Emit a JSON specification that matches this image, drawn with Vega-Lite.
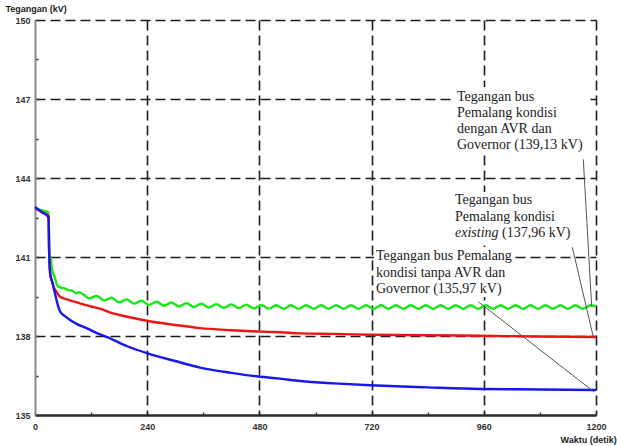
{
  "$schema": "https://vega.github.io/schema/vega-lite/v6.json",
  "width": 561,
  "height": 395,
  "autosize": {"type": "none"},
  "padding": {"left": 35, "top": 20, "right": 21, "bottom": 31},
  "background": "white",
  "config": {"view": {"stroke": null}},
  "datasets": {
    "curves": [
      {"s": "g", "t": 0, "v": 142.85}, {"s": "g", "t": 10, "v": 142.8}, {"s": "g", "t": 20, "v": 142.75}, {"s": "g", "t": 29, "v": 142.7},
      {"s": "g", "t": 30.5, "v": 141.05}, {"s": "g", "t": 34, "v": 141.0}, {"s": "g", "t": 36, "v": 140.55}, {"s": "g", "t": 40, "v": 140.35},
      {"s": "g", "t": 44, "v": 140.12}, {"s": "g", "t": 49, "v": 139.88}, {"s": "g", "t": 56, "v": 139.84}, {"s": "g", "t": 64, "v": 139.8},
      {"s": "g", "t": 72, "v": 139.74}, {"s": "g", "t": 80, "v": 139.72}, {"s": "g", "t": 88, "v": 139.62}, {"s": "g", "t": 94, "v": 139.66},
      {"s": "g", "t": 100, "v": 139.62}, {"s": "g", "t": 116, "v": 139.43}, {"s": "g", "t": 132, "v": 139.52}, {"s": "g", "t": 148, "v": 139.35},
      {"s": "g", "t": 164, "v": 139.45}, {"s": "g", "t": 180, "v": 139.28}, {"s": "g", "t": 196, "v": 139.39}, {"s": "g", "t": 212, "v": 139.23},
      {"s": "g", "t": 228, "v": 139.34}, {"s": "g", "t": 244, "v": 139.18}, {"s": "g", "t": 260, "v": 139.3}, {"s": "g", "t": 276, "v": 139.15},
      {"s": "g", "t": 292, "v": 139.27}, {"s": "g", "t": 308, "v": 139.12}, {"s": "g", "t": 324, "v": 139.25}, {"s": "g", "t": 340, "v": 139.1},
      {"s": "g", "t": 356, "v": 139.23}, {"s": "g", "t": 372, "v": 139.08}, {"s": "g", "t": 388, "v": 139.21}, {"s": "g", "t": 404, "v": 139.07},
      {"s": "g", "t": 420, "v": 139.2}, {"s": "g", "t": 436, "v": 139.06}, {"s": "g", "t": 452, "v": 139.19}, {"s": "g", "t": 468, "v": 139.05},
      {"s": "g", "t": 484, "v": 139.18}, {"s": "g", "t": 500, "v": 139.04}, {"s": "g", "t": 516, "v": 139.17}, {"s": "g", "t": 532, "v": 139.03},
      {"s": "g", "t": 548, "v": 139.17}, {"s": "g", "t": 564, "v": 139.03}, {"s": "g", "t": 580, "v": 139.17}, {"s": "g", "t": 596, "v": 139.03},
      {"s": "g", "t": 612, "v": 139.17}, {"s": "g", "t": 628, "v": 139.03}, {"s": "g", "t": 644, "v": 139.17}, {"s": "g", "t": 660, "v": 139.03},
      {"s": "g", "t": 676, "v": 139.17}, {"s": "g", "t": 692, "v": 139.03}, {"s": "g", "t": 708, "v": 139.17}, {"s": "g", "t": 724, "v": 139.03},
      {"s": "g", "t": 740, "v": 139.17}, {"s": "g", "t": 756, "v": 139.03}, {"s": "g", "t": 772, "v": 139.17}, {"s": "g", "t": 788, "v": 139.03},
      {"s": "g", "t": 804, "v": 139.17}, {"s": "g", "t": 820, "v": 139.03}, {"s": "g", "t": 836, "v": 139.17}, {"s": "g", "t": 852, "v": 139.03},
      {"s": "g", "t": 868, "v": 139.17}, {"s": "g", "t": 884, "v": 139.03}, {"s": "g", "t": 900, "v": 139.17}, {"s": "g", "t": 916, "v": 139.03},
      {"s": "g", "t": 932, "v": 139.17}, {"s": "g", "t": 948, "v": 139.03}, {"s": "g", "t": 964, "v": 139.17}, {"s": "g", "t": 980, "v": 139.03},
      {"s": "g", "t": 996, "v": 139.17}, {"s": "g", "t": 1012, "v": 139.03}, {"s": "g", "t": 1028, "v": 139.17}, {"s": "g", "t": 1044, "v": 139.03},
      {"s": "g", "t": 1060, "v": 139.17}, {"s": "g", "t": 1076, "v": 139.03}, {"s": "g", "t": 1092, "v": 139.17}, {"s": "g", "t": 1108, "v": 139.03},
      {"s": "g", "t": 1124, "v": 139.17}, {"s": "g", "t": 1140, "v": 139.03}, {"s": "g", "t": 1156, "v": 139.17}, {"s": "g", "t": 1172, "v": 139.03},
      {"s": "g", "t": 1188, "v": 139.17}, {"s": "g", "t": 1200, "v": 139.13},

      {"s": "r", "t": 0, "v": 142.85}, {"s": "r", "t": 15, "v": 142.7}, {"s": "r", "t": 29, "v": 142.56}, {"s": "r", "t": 30.5, "v": 141.0},
      {"s": "r", "t": 33, "v": 140.3}, {"s": "r", "t": 36, "v": 140.1}, {"s": "r", "t": 40, "v": 139.85}, {"s": "r", "t": 45, "v": 139.7},
      {"s": "r", "t": 53, "v": 139.5}, {"s": "r", "t": 70, "v": 139.38}, {"s": "r", "t": 96, "v": 139.24}, {"s": "r", "t": 120, "v": 139.12},
      {"s": "r", "t": 139, "v": 139.04}, {"s": "r", "t": 160, "v": 138.9}, {"s": "r", "t": 200, "v": 138.72}, {"s": "r", "t": 242, "v": 138.57},
      {"s": "r", "t": 300, "v": 138.42}, {"s": "r", "t": 353, "v": 138.3}, {"s": "r", "t": 420, "v": 138.22}, {"s": "r", "t": 477, "v": 138.17},
      {"s": "r", "t": 524, "v": 138.14}, {"s": "r", "t": 567, "v": 138.1}, {"s": "r", "t": 640, "v": 138.08}, {"s": "r", "t": 717, "v": 138.05},
      {"s": "r", "t": 840, "v": 138.03}, {"s": "r", "t": 952, "v": 138.01}, {"s": "r", "t": 1080, "v": 137.98}, {"s": "r", "t": 1200, "v": 137.96},

      {"s": "b", "t": 0, "v": 142.9}, {"s": "b", "t": 15, "v": 142.7}, {"s": "b", "t": 29, "v": 142.5}, {"s": "b", "t": 30.5, "v": 141.0},
      {"s": "b", "t": 33, "v": 140.3}, {"s": "b", "t": 37, "v": 140.05}, {"s": "b", "t": 41, "v": 139.75}, {"s": "b", "t": 46, "v": 139.37},
      {"s": "b", "t": 50, "v": 139.1}, {"s": "b", "t": 54, "v": 138.92}, {"s": "b", "t": 62, "v": 138.78}, {"s": "b", "t": 75, "v": 138.61},
      {"s": "b", "t": 90, "v": 138.45}, {"s": "b", "t": 110, "v": 138.3}, {"s": "b", "t": 139, "v": 138.06}, {"s": "b", "t": 153, "v": 137.97},
      {"s": "b", "t": 196, "v": 137.62}, {"s": "b", "t": 241, "v": 137.34}, {"s": "b", "t": 300, "v": 137.05}, {"s": "b", "t": 353, "v": 136.8},
      {"s": "b", "t": 420, "v": 136.6}, {"s": "b", "t": 478, "v": 136.46}, {"s": "b", "t": 524, "v": 136.38}, {"s": "b", "t": 567, "v": 136.29},
      {"s": "b", "t": 640, "v": 136.2}, {"s": "b", "t": 717, "v": 136.13}, {"s": "b", "t": 840, "v": 136.05}, {"s": "b", "t": 952, "v": 135.99},
      {"s": "b", "t": 1080, "v": 135.97}, {"s": "b", "t": 1200, "v": 135.95}
    ],
    "notes": [
      {"t": 902.7, "v": 147.09, "text": "Tegangan bus", "it": false},
      {"t": 902.7, "v": 146.46, "text": "Pemalang kondisi", "it": false},
      {"t": 902.7, "v": 145.85, "text": "dengan AVR dan", "it": false},
      {"t": 902.7, "v": 145.25, "text": "Governor (139,13 kV)", "it": false},
      {"t": 898.4, "v": 143.16, "text": "Tegangan bus", "it": false},
      {"t": 898.4, "v": 142.53, "text": "Pemalang kondisi", "it": false},
      {"t": 898.4, "v": 141.9, "text": "existing", "it": true},
      {"t": 998.9, "v": 141.9, "text": "(137,96 kV)", "it": false},
      {"t": 729.4, "v": 141.05, "text": "Tegangan bus Pemalang", "it": false},
      {"t": 729.4, "v": 140.4, "text": "kondisi tanpa AVR dan", "it": false},
      {"t": 729.4, "v": 139.77, "text": "Governor (135,97 kV)", "it": false}
    ],
    "leaders": [
      {"t": 1172.8, "v": 144.71, "t2": 1190.8, "v2": 139.11},
      {"t": 1149.3, "v": 141.37, "t2": 1194.2, "v2": 137.97},
      {"t": 948.2, "v": 139.3, "t2": 1195.7, "v2": 135.88}
    ],
    "boxes": [
      {"t": 898.4, "t2": 1187.2, "v": 147.46, "v2": 144.87},
      {"t": 894.1, "t2": 1157.2, "v": 143.47, "v2": 141.53},
      {"t": 725.1, "t2": 1024.6, "v": 141.38, "v2": 139.48}
    ]
  },
  "encoding": {
    "x": {
      "field": "t", "type": "quantitative",
      "scale": {"domain": [0, 1200], "nice": false, "zero": false},
      "axis": {
        "values": [0, 120, 240, 360, 480, 600, 720, 840, 960, 1080, 1200],
        "format": "d",
        "labelExpr": "datum.value % 240 == 0 ? datum.label : ''",
        "labelFont": "Liberation Sans", "labelFontWeight": "bold", "labelFontSize": 9, "labelColor": "#333333",
        "labelFlush": false, "labelOverlap": false, "labelBound": false, "labelPadding": 10,
        "grid": true,
        "gridColor": "#1c1c1c", "gridDash": [10, 5], "gridWidth": 1.6,
        "gridOpacity": {"condition": {"test": "datum.value % 240 != 0 || datum.value == 0", "value": 0}, "value": 1},
        "domainColor": "#2a2a2a", "domainWidth": 2.5,
        "ticks": true, "tickSize": -3, "tickColor": "#333333", "tickWidth": 1.5,
        "title": "Waktu (detik)", "titleFont": "Liberation Sans", "titleFontSize": 9, "titleFontWeight": "bold", "titleColor": "#222222",
        "titleX": 525, "titleY": 24, "titleAlign": "left", "titleBaseline": "middle", "titleAnchor": "start"
      }
    },
    "y": {
      "field": "v", "type": "quantitative",
      "scale": {"domain": [135, 150], "nice": false, "zero": false},
      "axis": {
        "values": [135, 136.5, 138, 139.5, 141, 142.5, 144, 145.5, 147, 148.5, 150],
        "labelExpr": "datum.value % 3 == 0 ? format(datum.value, 'd') : ''",
        "labelFont": "Liberation Sans", "labelFontWeight": "bold", "labelFontSize": 9, "labelColor": "#333333",
        "labelFlush": false, "labelOverlap": false, "labelBound": false, "labelPadding": 8,
        "grid": true,
        "gridColor": "#1c1c1c", "gridDash": [10, 5], "gridWidth": 1.6,
        "gridOpacity": {"condition": {"test": "datum.value % 3 != 0 || datum.value == 135", "value": 0}, "value": 1},
        "domainColor": "#8a8a8a", "domainWidth": 2,
        "ticks": true, "tickSize": -3, "tickColor": "#333333", "tickWidth": 1.5,
        "title": "Tegangan (kV)", "titleFont": "Liberation Sans", "titleFontSize": 9, "titleFontWeight": "bold", "titleColor": "#222222",
        "titleAngle": 0, "titleX": -30, "titleY": -12, "titleAlign": "left", "titleBaseline": "middle", "titleAnchor": "start"
      }
    }
  },
  "layer": [
    {
      "data": {"name": "boxes"},
      "mark": {"type": "rect", "fill": "white", "stroke": null},
      "encoding": {"x2": {"field": "t2"}, "y2": {"field": "v2"}}
    },
    {
      "data": {"name": "curves"},
      "mark": {"type": "line", "strokeWidth": 2.4, "interpolate": "monotone"},
      "encoding": {
        "color": {"field": "s", "type": "nominal", "scale": {"domain": ["g", "r", "b"], "range": ["#18e818", "#ee1414", "#1818ee"]}, "legend": null},
        "order": {"field": "t", "type": "quantitative"}
      }
    },
    {
      "data": {"name": "leaders"},
      "mark": {"type": "rule", "color": "#555555", "strokeWidth": 1},
      "encoding": {"x2": {"field": "t2"}, "y2": {"field": "v2"}}
    },
    {
      "data": {"name": "notes"},
      "transform": [{"filter": "!datum.it"}],
      "mark": {"type": "text", "font": "Liberation Serif", "fontSize": 14, "align": "left", "baseline": "middle", "color": "#222222"},
      "encoding": {"text": {"field": "text"}}
    },
    {
      "data": {"name": "notes"},
      "transform": [{"filter": "datum.it"}],
      "mark": {"type": "text", "font": "Liberation Serif", "fontSize": 14, "fontStyle": "italic", "align": "left", "baseline": "middle", "color": "#222222"},
      "encoding": {"text": {"field": "text"}}
    }
  ]
}
